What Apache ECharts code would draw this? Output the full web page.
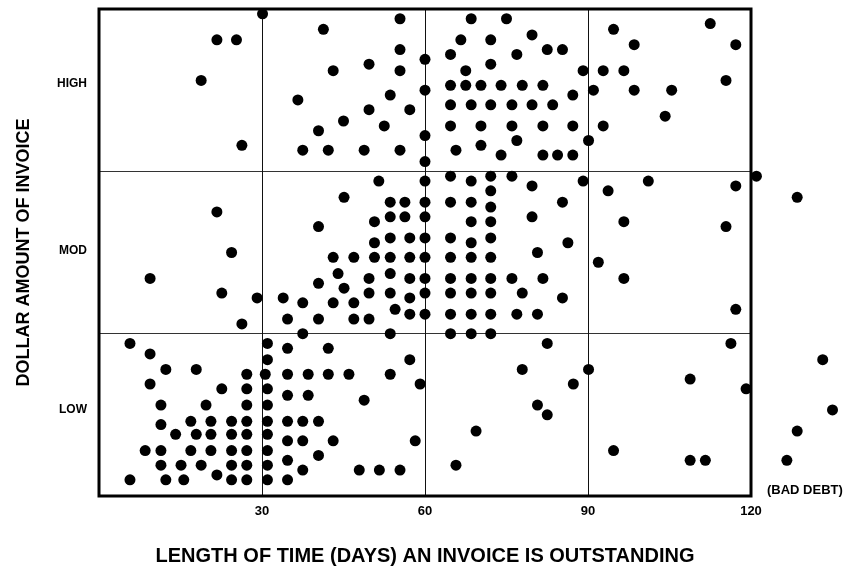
<!DOCTYPE html>
<html>
<head>
<meta charset="utf-8">
<script src="https://cdn.jsdelivr.net/npm/echarts@6/dist/echarts.min.js"></script>
<style>html,body{margin:0;padding:0;background:#fff}#c{width:853px;height:574px}</style>
</head>
<body>
<div id="c"></div>
<script>
// x: days outstanding, y: dollar amount level (0-1 LOW, 1-2 MOD, 2-3 HIGH)
const xTicks = [30, 60, 90, 120];
const bandNames = ['LOW', 'MOD', 'HIGH'];
const bandLabelValues = [0.53, 1.51, 2.54];
const xTitle = 'LENGTH OF TIME (DAYS) AN INVOICE IS OUTSTANDING';
const yTitle = 'DOLLAR AMOUNT OF INVOICE';
const extraLabel = '(BAD DEBT)';

const highPoints = [
  [30.1,2.97],[21.7,2.81],[25.3,2.81],[18.8,2.56],[26.3,2.16],
  [55.4,2.94],[41.3,2.875],[66.6,2.81],[55.4,2.75],[60.0,2.69],[64.7,2.72],[49.7,2.66],[43.1,2.62],[55.4,2.62],[67.5,2.62],
  [60.0,2.50],[64.7,2.53],[67.5,2.53],[36.6,2.44],[53.6,2.47],[49.7,2.38],[57.2,2.38],[64.7,2.41],[68.5,2.41],
  [45.0,2.31],[40.4,2.25],[52.5,2.28],[64.7,2.28],[60.0,2.22],[37.5,2.13],[42.2,2.13],[48.8,2.13],[55.4,2.13],[65.7,2.13],[60.0,2.06],
  [68.5,2.94],[75.0,2.94],[72.1,2.81],[79.7,2.84],[94.7,2.875],[98.5,2.78],[76.9,2.72],[82.5,2.75],[85.3,2.75],
  [72.1,2.66],[89.1,2.62],[92.8,2.62],[96.6,2.62],[70.3,2.53],[74.0,2.53],[77.9,2.53],[81.7,2.53],[87.2,2.47],[91.0,2.50],[98.5,2.50],
  [72.1,2.41],[76.0,2.41],[79.7,2.41],[83.5,2.41],[70.3,2.28],[76.0,2.28],[81.7,2.28],[87.2,2.28],[92.8,2.28],
  [70.3,2.16],[76.9,2.19],[74.0,2.10],[81.7,2.10],[84.4,2.10],[87.2,2.10],[90.1,2.19],
  [112.5,2.91],[117.2,2.78],[115.4,2.56],[105.4,2.50],[104.2,2.34]
];

const modPoints = [
  [21.7,1.75],[24.4,1.50],[9.4,1.34],[22.6,1.25],[29.1,1.22],[33.9,1.22],[34.7,1.09],[26.3,1.06],
  [64.7,1.97],[51.5,1.94],[60.0,1.94],[68.5,1.94],[45.1,1.84],[53.6,1.81],[56.3,1.81],[60.0,1.81],[64.7,1.81],[68.5,1.81],
  [40.4,1.66],[50.7,1.69],[53.6,1.72],[56.3,1.72],[60.0,1.72],[68.5,1.69],
  [50.7,1.56],[53.6,1.59],[57.2,1.59],[60.0,1.59],[64.7,1.59],[68.5,1.56],
  [43.1,1.47],[46.9,1.47],[50.7,1.47],[53.6,1.47],[57.2,1.47],[60.0,1.47],[64.7,1.47],[68.5,1.47],
  [44.0,1.37],[49.7,1.34],[53.6,1.37],[57.2,1.34],[60.0,1.34],[64.7,1.34],[68.5,1.34],
  [40.4,1.31],[45.1,1.28],[49.7,1.25],[53.6,1.25],[60.0,1.25],[64.7,1.25],[68.5,1.25],
  [37.5,1.19],[43.1,1.19],[46.9,1.19],[57.2,1.22],[54.5,1.15],
  [40.4,1.09],[46.9,1.09],[49.7,1.09],[57.2,1.12],[60.0,1.12],[64.7,1.12],[68.5,1.12],
  [72.1,1.97],[76.0,1.97],[79.7,1.91],[89.1,1.94],[101.1,1.94],[72.1,1.88],[93.7,1.88],[72.1,1.78],[85.3,1.81],
  [72.1,1.69],[79.7,1.72],[96.6,1.69],[72.1,1.59],[86.3,1.56],[72.1,1.47],[80.7,1.50],[91.9,1.44],
  [72.1,1.34],[76.0,1.34],[81.7,1.34],[96.6,1.34],[72.1,1.25],[77.9,1.25],[85.3,1.22],
  [72.1,1.12],[76.9,1.12],[80.7,1.12],
  [117.2,1.91],[121.0,1.97],[128.5,1.84],[115.4,1.66],[117.2,1.15],
  [37.5,1.00],[53.6,1.00],[64.7,1.00],[68.5,1.00],[72.1,1.00]
];

const lowPoints = [
  [5.7,0.94],[9.4,0.875],[12.3,0.78],[17.9,0.78],[9.4,0.69],[22.6,0.66],[27.2,0.75],[27.2,0.66],[30.6,0.75],
  [31.0,0.94],[31.0,0.84],[34.7,0.91],[34.7,0.75],[34.7,0.62],
  [11.4,0.56],[19.7,0.56],[27.2,0.56],[31.0,0.66],[31.0,0.56],
  [11.4,0.44],[16.9,0.46],[20.6,0.46],[24.4,0.46],[27.2,0.46],[31.0,0.46],[34.7,0.46],
  [14.1,0.38],[17.9,0.38],[20.6,0.38],[24.4,0.38],[27.2,0.38],[31.0,0.38],[34.7,0.34],
  [8.5,0.28],[11.4,0.28],[16.9,0.28],[20.6,0.28],[24.4,0.28],[27.2,0.28],[31.0,0.28],[34.7,0.22],
  [11.4,0.19],[15.1,0.19],[18.8,0.19],[24.4,0.19],[27.2,0.19],[31.0,0.19],
  [5.7,0.10],[12.3,0.10],[15.6,0.10],[21.7,0.13],[24.4,0.10],[27.2,0.10],[31.0,0.10],[34.7,0.10],
  [42.2,0.91],[57.2,0.84],[38.5,0.75],[42.2,0.75],[46.0,0.75],[53.6,0.75],[59.1,0.69],[38.5,0.62],[48.8,0.59],
  [37.5,0.46],[40.4,0.46],[37.5,0.34],[43.1,0.34],[58.2,0.34],[40.4,0.25],
  [37.5,0.16],[47.9,0.16],[51.6,0.16],[55.4,0.16],[65.7,0.19],
  [82.5,0.94],[77.9,0.78],[90.1,0.78],[87.3,0.69],[80.7,0.56],[82.5,0.50],[69.4,0.40],[94.7,0.28],
  [116.3,0.94],[133.2,0.84],[108.8,0.72],[119.1,0.66],[135.0,0.53],[128.5,0.40],[108.8,0.22],[111.6,0.22],[126.6,0.22]
];

const FONT = 'Liberation Sans, Arial, sans-serif';
const chart = echarts.init(document.getElementById('c'), null, { renderer: 'canvas' });

function dotSeries(data) {
  return {
    type: 'scatter', data: data, symbol: 'circle', symbolSize: 11,
    itemStyle: { color: '#000', opacity: 1 }, clip: false, silent: true, z: 5
  };
}

chart.setOption({
  animation: false,
  backgroundColor: '#fff',
  grid: { left: 99, top: 9, width: 652, height: 487, show: true, borderColor: '#000', borderWidth: 3, backgroundColor: 'transparent', z: 3 },
  xAxis: {
    type: 'value', min: 0, max: 120, interval: 30,
    axisLine: { show: false }, axisTick: { show: false },
    splitLine: { show: true, lineStyle: { color: '#111', width: 1 } },
    axisLabel: {
      margin: 9, color: '#000', fontFamily: FONT, fontWeight: 'bold', fontSize: 13,
      formatter: v => (xTicks.indexOf(v) >= 0 ? String(v) : '')
    },
    name: xTitle, nameLocation: 'middle', nameGap: 50,
    nameTextStyle: { color: '#000', fontFamily: FONT, fontWeight: 'bold', fontSize: 20 }
  },
  yAxis: [
    {
      type: 'value', min: 0, max: 3, interval: 1,
      axisLine: { show: false }, axisTick: { show: false }, axisLabel: { show: false },
      splitLine: { show: true, lineStyle: { color: '#333', width: 1 } }
    },
    {
      type: 'value', min: 0, max: 3, position: 'left',
      axisLine: { show: false }, axisTick: { show: false }, splitLine: { show: false },
      axisLabel: {
        margin: 12, color: '#000', fontFamily: FONT, fontWeight: 'bold', fontSize: 12,
        customValues: bandLabelValues,
        formatter: v => bandNames[Math.min(2, Math.floor(v))]
      },
      name: yTitle, nameLocation: 'middle', nameGap: 66,
      nameTextStyle: { color: '#000', fontFamily: FONT, fontWeight: 'bold', fontSize: 18 }
    }
  ],
  graphic: [{
    type: 'text', left: 767, top: 484,
    style: { text: extraLabel, fill: '#000', font: 'bold 13px ' + FONT }
  }],
  series: [dotSeries(highPoints), dotSeries(modPoints), dotSeries(lowPoints)]
});
</script>
</body>
</html>
